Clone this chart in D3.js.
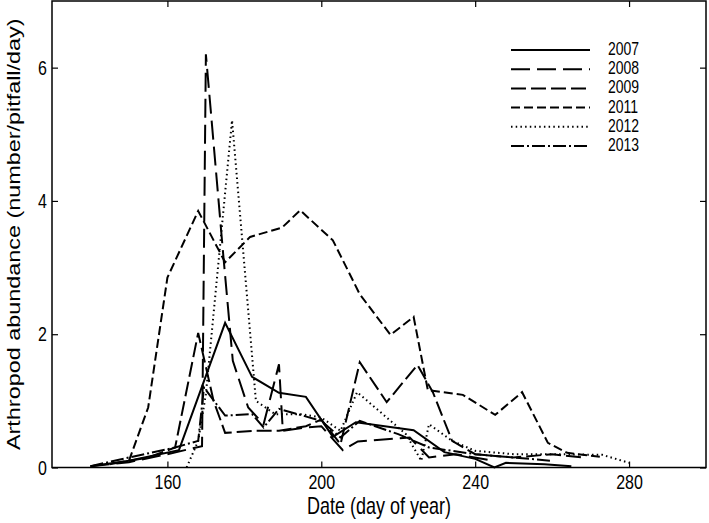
<!DOCTYPE html>
<html>
<head>
<meta charset="utf-8">
<script src="https://cdn.jsdelivr.net/npm/d3@7"></script>
<style>
  body { margin: 0; background: #fff; }
  svg { font-family: "Liberation Sans", Arial, sans-serif; }
</style>
</head>
<body>
<div id="chart"></div>
<script>
// Data: [day of year, abundance]
const years = ["2007", "2008", "2009", "2011", "2012", "2013"];
const s2007 = [[140,0.02],[150,0.1],[163,0.26],[175,2.17],[182,1.36],[189,1.12],[196,1.06],[203,0.46],[209,0.68],[224,0.56],[232,0.23],[240,0.13],[245,0.0],[248,0.07],[258,0.05],[265,0.02]];
const s2008 = [[140,0.02],[150,0.08],[160,0.2],[169,0.32],[170,6.2],[174.5,3.2],[177,1.6],[181,0.9],[185,0.65],[189,1.55],[190,0.55],[196,0.6],[200,0.62],[205.6,0.26],[209.5,0.39],[223,0.45],[228,0.15],[235,0.2],[245,0.1]];
const s2009 = [[145,0.05],[155,0.15],[162,0.3],[168,2.02],[172,1.0],[175,0.52],[183,0.55],[189,0.55],[196,0.62],[200,0.72],[205,0.35],[210,1.58],[217,0.98],[225,1.54],[229,1.13],[234,0.4],[240,0.2],[250,0.15],[260,0.2],[268,0.15]];
const s2011 = [[150,0.1],[155,0.9],[160,2.85],[168,3.85],[175,3.08],[181.5,3.46],[189.8,3.6],[194.5,3.86],[203,3.41],[210,2.6],[218,1.99],[224,2.26],[227.7,1.16],[236.8,1.09],[245.2,0.79],[252.2,1.13],[258.9,0.37],[263.9,0.22],[272.4,0.16]];
const s2012 = [[165,0.0],[168,0.4],[170,1.1],[176.8,5.21],[183,1.0],[188,0.8],[195,0.8],[200,0.75],[205,0.55],[209.3,1.13],[215,0.85],[222,0.5],[226,0.1],[228,0.65],[234,0.4],[240,0.25],[250,0.2],[260,0.2],[273,0.19],[280,0.07]];
const s2013 = [[140,0.02],[150,0.15],[162,0.3],[168,0.4],[169.5,1.2],[175,0.78],[182,0.8],[185,0.6],[189,0.88],[200,0.7],[205,0.45],[210,0.7],[220,0.5],[228,0.3],[240,0.2],[250,0.15],[260,0.1]];
const seriesData = [s2007, s2008, s2009, s2011, s2012, s2013];
const dashes = ["none", "19,7", "15,5", "9,4", "1.5,3.2", "13,3,2,3"];
const xTicks = [160, 200, 240, 280];
const yTicks = [0, 2, 4, 6];

const W = 709, H = 523;
const margin = { top: 1, right: 3, bottom: 55.5, left: 52 };
const width = W - margin.left - margin.right;
const height = H - margin.top - margin.bottom;
const sy = 1.3; // the figure's text is stretched vertically

const svg = d3.select("#chart").append("svg")
  .attr("width", W).attr("height", H);
const g = svg.append("g")
  .attr("transform", `translate(${margin.left},${margin.top})`);

const x = d3.scaleLinear().domain([130, 300]).range([0, width]);
const y = d3.scaleLinear().domain([0, 7]).range([height, 0]);

// series lines
const line = d3.line().x(d => x(d[0])).y(d => y(d[1]));
g.selectAll(".series").data(seriesData).enter().append("path")
  .attr("class", "series")
  .attr("d", line)
  .attr("fill", "none")
  .attr("stroke", "#000")
  .attr("stroke-width", 2)
  .attr("stroke-linejoin", "miter")
  .attr("stroke-dasharray", (d, i) => dashes[i]);

// axes, ticks inside, mirrored
const tickLen = 6;
const fmt = d3.format("d");
const xAx = g.append("g").attr("transform", `translate(0,${height})`)
  .call(d3.axisBottom(x).tickValues(xTicks).tickFormat(fmt).tickSizeInner(-tickLen).tickSizeOuter(0).tickPadding(5));
g.append("g")
  .call(d3.axisTop(x).tickValues(xTicks).tickSizeInner(-tickLen).tickSizeOuter(0).tickFormat(""));
const yAx = g.append("g")
  .call(d3.axisLeft(y).tickValues(yTicks).tickFormat(fmt).tickSizeInner(-tickLen).tickSizeOuter(0).tickPadding(5));
g.append("g").attr("transform", `translate(${width},0)`)
  .call(d3.axisRight(y).tickValues(yTicks).tickSizeInner(-tickLen).tickSizeOuter(0).tickFormat(""));
g.selectAll(".domain").remove();
g.selectAll(".tick line").attr("stroke", "#000").attr("stroke-width", 1.2);
g.selectAll(".tick text").attr("font-size", 16).attr("fill", "#000")
  .attr("font-family", "'Liberation Sans', Arial, sans-serif")
  .attr("transform", `scale(1,${sy})`);

// box
g.append("rect").attr("width", width).attr("height", height)
  .attr("fill", "none").attr("stroke", "#000").attr("stroke-width", 1.5);

// axis labels
svg.append("text")
  .attr("transform", `translate(${margin.left + width / 2},514) scale(1,${sy})`)
  .attr("text-anchor", "middle").attr("font-size", 18)
  .text("Date (day of year)");
svg.append("text")
  .attr("transform", `translate(20,${margin.top + height / 2}) scale(1,${sy}) rotate(-90)`)
  .attr("text-anchor", "middle").attr("font-size", 18)
  .text("Arthropod abundance (number/pitfall/day)");

// legend
const lg = svg.append("g");
years.forEach((yr, i) => {
  const ly = 50 + i * 19.2;
  lg.append("line").attr("x1", 511).attr("x2", 590).attr("y1", ly).attr("y2", ly)
    .attr("stroke", "#000").attr("stroke-width", 2)
    .attr("stroke-dasharray", dashes[i]);
  lg.append("text").attr("transform", `translate(608,${ly + 5}) scale(1,${sy})`)
    .attr("font-size", 14).text(yr);
});
</script>
</body>
</html>
